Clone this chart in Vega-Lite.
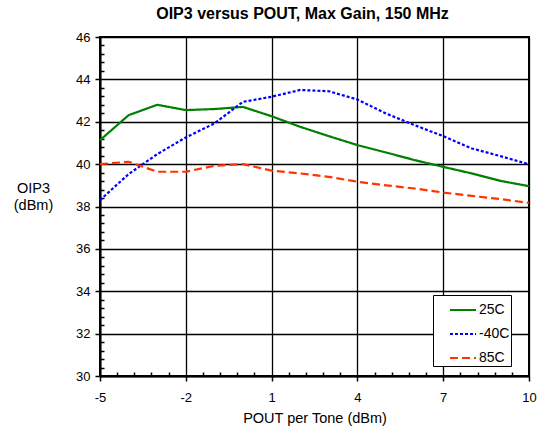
{
  "$schema": "https://vega.github.io/schema/vega-lite/v6.json",
  "autosize": {"type": "none"},
  "padding": {"left": 100, "top": 37, "right": 15, "bottom": 59},
  "width": 429,
  "height": 339,
  "background": "white",
  "title": {
    "text": "OIP3 versus POUT, Max Gain, 150 MHz",
    "font": "Liberation Sans",
    "fontSize": 16,
    "fontWeight": "bold",
    "color": "black",
    "anchor": "middle",
    "dx": -12,
    "offset": 9
  },
  "config": {
    "view": {"stroke": "black", "strokeWidth": 2},
    "axis": {
      "labelFont": "Liberation Sans",
      "titleFont": "Liberation Sans",
      "labelColor": "black",
      "titleColor": "black",
      "domainColor": "black",
      "domainWidth": 2,
      "tickColor": "black",
      "tickWidth": 1.5,
      "gridColor": "black",
      "gridWidth": 1.3,
      "labelFontSize": 13,
      "titleFontSize": 14.5,
      "titleFontWeight": "normal"
    },
    "legend": {
      "orient": "none",
      "legendX": 333,
      "legendY": 258,
      "strokeColor": "black",
      "fillColor": "white",
      "padding": 1,
      "symbolType": "stroke",
      "symbolSize": 676,
      "symbolStrokeWidth": 2,
      "symbolOffset": 15,
      "labelFont": "Liberation Sans",
      "labelFontSize": 14,
      "labelColor": "black",
      "labelOffset": 2,
      "rowPadding": 3
    }
  },
  "data": {
    "values": [
      {"x": -5, "y": 41.13, "series": "25C"},
      {"x": -4, "y": 42.31, "series": "25C"},
      {"x": -3, "y": 42.8, "series": "25C"},
      {"x": -2, "y": 42.55, "series": "25C"},
      {"x": -1, "y": 42.6, "series": "25C"},
      {"x": 0, "y": 42.7, "series": "25C"},
      {"x": 1, "y": 42.26, "series": "25C"},
      {"x": 2, "y": 41.76, "series": "25C"},
      {"x": 3, "y": 41.32, "series": "25C"},
      {"x": 4, "y": 40.9, "series": "25C"},
      {"x": 5, "y": 40.55, "series": "25C"},
      {"x": 6, "y": 40.19, "series": "25C"},
      {"x": 7, "y": 39.87, "series": "25C"},
      {"x": 8, "y": 39.56, "series": "25C"},
      {"x": 9, "y": 39.21, "series": "25C"},
      {"x": 10, "y": 38.96, "series": "25C"},
      {"x": -5, "y": 38.3, "series": "-40C"},
      {"x": -4, "y": 39.53, "series": "-40C"},
      {"x": -3, "y": 40.47, "series": "-40C"},
      {"x": -2, "y": 41.26, "series": "-40C"},
      {"x": -1, "y": 41.92, "series": "-40C"},
      {"x": 0, "y": 42.94, "series": "-40C"},
      {"x": 1, "y": 43.18, "series": "-40C"},
      {"x": 2, "y": 43.5, "series": "-40C"},
      {"x": 3, "y": 43.44, "series": "-40C"},
      {"x": 4, "y": 43.05, "series": "-40C"},
      {"x": 5, "y": 42.39, "series": "-40C"},
      {"x": 6, "y": 41.84, "series": "-40C"},
      {"x": 7, "y": 41.32, "series": "-40C"},
      {"x": 8, "y": 40.74, "series": "-40C"},
      {"x": 9, "y": 40.38, "series": "-40C"},
      {"x": 10, "y": 39.99, "series": "-40C"},
      {"x": -5, "y": 40.0, "series": "85C"},
      {"x": -4, "y": 40.11, "series": "85C"},
      {"x": -3, "y": 39.64, "series": "85C"},
      {"x": -2, "y": 39.64, "series": "85C"},
      {"x": -1, "y": 39.92, "series": "85C"},
      {"x": 0, "y": 40.0, "series": "85C"},
      {"x": 1, "y": 39.69, "series": "85C"},
      {"x": 2, "y": 39.56, "series": "85C"},
      {"x": 3, "y": 39.4, "series": "85C"},
      {"x": 4, "y": 39.17, "series": "85C"},
      {"x": 5, "y": 39.0, "series": "85C"},
      {"x": 6, "y": 38.85, "series": "85C"},
      {"x": 7, "y": 38.66, "series": "85C"},
      {"x": 8, "y": 38.5, "series": "85C"},
      {"x": 9, "y": 38.35, "series": "85C"},
      {"x": 10, "y": 38.17, "series": "85C"}
    ]
  },
  "mark": {"type": "line", "strokeCap": "butt", "strokeWidth": 2.2},
  "encoding": {
    "x": {
      "field": "x",
      "type": "quantitative",
      "scale": {"domain": [-5, 10], "nice": false, "zero": false},
      "axis": {
        "title": "POUT per Tone (dBm)",
        "values": [-5, -4.4, -3.8, -3.2, -2.6, -2, -1.4, -0.8, -0.2, 0.4, 1, 1.6, 2.2, 2.8, 3.4, 4, 4.6, 5.2, 5.8, 6.4, 7, 7.6, 8.2, 8.8, 9.4, 10],
        "labelExpr": "abs((datum.value+5)/3 - round((datum.value+5)/3)) < 0.01 ? '' + datum.value : ''",
        "grid": true,
        "gridOpacity": {"condition": {"test": "abs((datum.value+5)/3 - round((datum.value+5)/3)) < 0.01", "value": 1}, "value": 0},
        "tickSize": {"condition": {"test": "abs((datum.value+5)/3 - round((datum.value+5)/3)) < 0.01", "value": 5}, "value": -4},
        "labelPadding": 10,
        "labelFlush": false,
        "labelOverlap": false,
        "titlePadding": 7
      }
    },
    "y": {
      "field": "y",
      "type": "quantitative",
      "scale": {"domain": [30, 46], "nice": false, "zero": false},
      "axis": {
        "title": ["OIP3", "(dBm)"],
        "values": [30, 30.4, 30.8, 31.2, 31.6, 32, 32.4, 32.8, 33.2, 33.6, 34, 34.4, 34.8, 35.2, 35.6, 36, 36.4, 36.8, 37.2, 37.6, 38, 38.4, 38.8, 39.2, 39.6, 40, 40.4, 40.8, 41.2, 41.6, 42, 42.4, 42.8, 43.2, 43.6, 44, 44.4, 44.8, 45.2, 45.6, 46],
        "labelExpr": "abs((datum.value-30)/2 - round((datum.value-30)/2)) < 0.01 ? '' + datum.value : ''",
        "grid": true,
        "gridOpacity": {"condition": {"test": "abs((datum.value-30)/2 - round((datum.value-30)/2)) < 0.01", "value": 1}, "value": 0},
        "tickSize": {"condition": {"test": "abs((datum.value-30)/2 - round((datum.value-30)/2)) < 0.01", "value": 5}, "value": -4},
        "labelPadding": 5,
        "labelFlush": false,
        "labelOverlap": false,
        "titleAngle": 0,
        "titleAlign": "center",
        "titleBaseline": "top",
        "titleX": -67,
        "titleY": 144,
        "titleLineHeight": 17
      }
    },
    "color": {
      "field": "series",
      "type": "nominal",
      "scale": {"domain": ["25C", "-40C", "85C"], "range": ["#008000", "#0000ff", "#ff3300"]},
      "legend": {"title": null}
    },
    "strokeDash": {
      "field": "series",
      "type": "nominal",
      "scale": {"domain": ["25C", "-40C", "85C"], "range": [[1, 0], [3, 2], [8, 4]]},
      "legend": {"title": null}
    }
  }
}
